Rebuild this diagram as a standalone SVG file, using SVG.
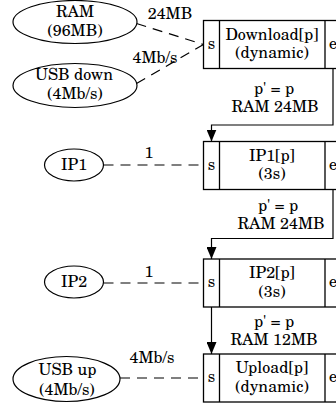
<svg xmlns="http://www.w3.org/2000/svg" width="336" height="404" viewBox="0 0 336 404" font-family="'TeX Gyre Schola', 'C059', 'Century Schoolbook L', 'Century Schoolbook', 'Liberation Serif', 'Noto Serif', 'FreeSerif', 'Times New Roman', Times, 'DejaVu Serif', serif">
  <style>
    text { font-size: 16px; fill: #000; text-anchor: middle; }
    .res { fill: #fff; stroke: #000; stroke-width: 1.2; }
    .task { fill: #fff; stroke: #000; stroke-width: 1.3; }
    .port { fill: none; stroke: #000; stroke-width: 1.3; }
    .use { fill: none; stroke: #000; stroke-width: 1.2; stroke-dasharray: 10 7; }
    .flow { fill: none; stroke: #000; stroke-width: 1.2; }
  </style>
  <defs>
    <marker id="arrow" viewBox="0 0 12 10" refX="12" refY="5" markerWidth="12" markerHeight="10" markerUnits="userSpaceOnUse" orient="auto">
      <path d="M0,0 L12,5 L0,10 Z" fill="#000"/>
    </marker>
  </defs>

  <rect width="336" height="404" fill="#fff"/>

  <!-- connectors -->
  <g id="connectors">
    <path class="use" d="M136.5,23.5 L203.5,44.5"/>
    <path class="use" d="M136.5,83.5 L203.5,44.5"/>
    <path class="use" d="M103.5,165 L203.5,165"/>
    <path class="use" d="M103.5,283 L203.5,283"/>
    <path class="use" d="M120,378 L203.5,378"/>
    <path class="flow" d="M333,68.5 V125 H211.5 V141.5" marker-end="url(#arrow)"/>
    <path class="flow" d="M333,189.5 V238.5 H211.5 V259" marker-end="url(#arrow)"/>
    <path class="flow" d="M211.5,307 V354" marker-end="url(#arrow)"/>
    <text x="170" y="18.5">24MB</text>
    <text x="155" y="63">4Mb/s</text>
    <text x="149" y="158">1</text>
    <text x="149" y="276.5">1</text>
    <text x="152" y="363">4Mb/s</text>
    <text x="274" y="94">p' = p</text>
    <text x="275" y="112">RAM 24MB</text>
    <text x="278" y="211">p' = p</text>
    <text x="281" y="229">RAM 24MB</text>
    <text x="274" y="327">p' = p</text>
    <text x="274" y="345">RAM 12MB</text>
  </g>

  <!-- resources -->
  <g id="ram">
    <ellipse class="res" cx="75" cy="22" rx="62" ry="21.5"/>
    <text x="75" y="17">RAM</text>
    <text x="75" y="35.5">(96MB)</text>
  </g>
  <g id="usb-down">
    <ellipse class="res" cx="75" cy="85.5" rx="62" ry="22"/>
    <text x="74" y="80">USB down</text>
    <text x="75" y="98.5">(4Mb/s)</text>
  </g>
  <g id="ip1">
    <ellipse class="res" cx="74" cy="165" rx="29.5" ry="16"/>
    <text x="74" y="169.5">IP1</text>
  </g>
  <g id="ip2">
    <ellipse class="res" cx="74" cy="282" rx="29.5" ry="16"/>
    <text x="74" y="287">IP2</text>
  </g>
  <g id="usb-up">
    <ellipse class="res" cx="66.5" cy="379" rx="53.5" ry="22.5"/>
    <text x="67.5" y="375">USB up</text>
    <text x="67" y="394.5">(4Mb/s)</text>
  </g>

  <!-- tasks: start port | body | end port -->
  <g id="download">
    <rect class="task" x="203.5" y="20.5" width="138" height="48"/>
    <path class="port" d="M219.5,20.5 V68.5 M325,20.5 V68.5"/>
    <text x="211.5" y="48.5">s</text>
    <text x="272" y="39.5">Download[p]</text>
    <text x="272" y="58">(dynamic)</text>
    <text x="333" y="48.5">e</text>
  </g>
  <g id="ip1-task">
    <rect class="task" x="203.5" y="141.5" width="138" height="48"/>
    <path class="port" d="M219.5,141.5 V189.5 M325,141.5 V189.5"/>
    <text x="211.5" y="169.5">s</text>
    <text x="272" y="160.5">IP1[p]</text>
    <text x="272" y="179">(3s)</text>
    <text x="333" y="169.5">e</text>
  </g>
  <g id="ip2-task">
    <rect class="task" x="203.5" y="259" width="138" height="48"/>
    <path class="port" d="M219.5,259 V307 M325,259 V307"/>
    <text x="211.5" y="287">s</text>
    <text x="272" y="278">IP2[p]</text>
    <text x="272" y="296.5">(3s)</text>
    <text x="333" y="287">e</text>
  </g>
  <g id="upload">
    <rect class="task" x="203.5" y="354" width="138" height="48"/>
    <path class="port" d="M219.5,354 V402 M325,354 V402"/>
    <text x="211.5" y="382">s</text>
    <text x="272" y="373">Upload[p]</text>
    <text x="272" y="391.5">(dynamic)</text>
    <text x="333" y="382">e</text>
  </g>
</svg>
